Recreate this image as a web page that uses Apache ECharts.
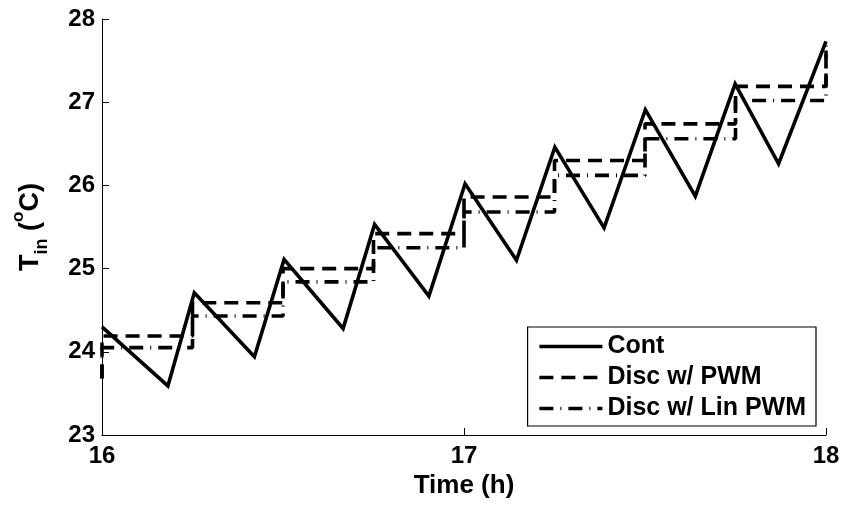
<!DOCTYPE html>
<html>
<head>
<meta charset="utf-8">
<script src="https://cdn.jsdelivr.net/npm/echarts@6/dist/echarts.min.js"></script>
<style>
  html, body { margin: 0; padding: 0; background: #fff; }
  #chart { width: 844px; height: 508px; }
</style>
</head>
<body>
<div id="chart"></div>
<script>
// Continuous controller: indoor temperature at switching instants (h, °C)
const contTimes  = [16.0, 16.182, 16.255, 16.421, 16.503, 16.666, 16.753, 16.903, 17.003, 17.145, 17.251, 17.387, 17.501, 17.639, 17.749, 17.869, 18.0];
const contValues = [24.30, 23.59, 24.71, 23.94, 25.11, 24.28, 25.53, 24.67, 26.02, 25.10, 26.46, 25.49, 26.91, 25.87, 27.22, 26.26, 27.73];

// Discrete controllers: one level held over each 15-minute slot
const stepTimes     = [16.0, 16.25, 16.5, 16.75, 17.0, 17.25, 17.5, 17.75, 18.0];
const pwmStart      = 23.68;
const pwmLevels     = [24.19, 24.59, 25.00, 25.42, 25.86, 26.30, 26.74, 27.19, 27.68];
const linPwmStart   = 23.68;
const linPwmLevels  = [24.05, 24.43, 24.84, 25.25, 25.68, 26.12, 26.56, 27.02, 27.62];

const xTicks = [16, 17, 18];
const yTicks = [23, 24, 25, 26, 27, 28];

const seriesNames = ['Cont', 'Disc w/ PWM', 'Disc w/ Lin PWM'];

function stepData(start, levels) {
  const pts = [[stepTimes[0], start]];
  for (let i = 0; i < stepTimes.length; i++) pts.push([stepTimes[i], levels[i]]);
  return pts;
}

const FONT = 'Liberation Sans';
const chart = echarts.init(document.getElementById('chart'), null, { renderer: 'canvas' });

chart.setOption({
  animation: false,
  backgroundColor: '#ffffff',
  grid: { left: 102, right: 18, top: 19, bottom: 73 },
  xAxis: {
    type: 'value',
    min: xTicks[0], max: xTicks[xTicks.length - 1], interval: 1,
    name: 'Time (h)', nameLocation: 'middle', nameGap: 37,
    nameTextStyle: { fontFamily: FONT, fontWeight: 'bold', fontSize: 26, color: '#000' },
    axisLine: { show: true, lineStyle: { color: '#000', width: 1 } },
    axisTick: { show: true, inside: true, length: 7, lineStyle: { color: '#000', width: 1 } },
    axisLabel: { fontFamily: FONT, fontWeight: 'bold', fontSize: 24, color: '#000', margin: 9 },
    splitLine: { show: false }
  },
  yAxis: {
    type: 'value',
    min: yTicks[0], max: yTicks[yTicks.length - 1], interval: 1,
    name: '{t|T}{sub|in}{p| (}{sup|o}{p|C)}',
    nameLocation: 'middle', nameGap: 58, nameRotate: 90,
    nameTextStyle: {
      fontFamily: FONT, fontWeight: 'bold', color: '#000',
      rich: {
        t:   { fontFamily: FONT, fontWeight: 'bold', fontSize: 27, color: '#000', verticalAlign: 'bottom', lineHeight: 34 },
        sub: { fontFamily: FONT, fontWeight: 'bold', fontSize: 18, color: '#000', verticalAlign: 'bottom', padding: [0, 0, -7, 0], lineHeight: 34 },
        p:   { fontFamily: FONT, fontWeight: 'bold', fontSize: 27, color: '#000', verticalAlign: 'bottom', lineHeight: 34 },
        sup: { fontFamily: FONT, fontWeight: 'bold', fontSize: 17, color: '#000', verticalAlign: 'top', lineHeight: 34 }
      }
    },
    axisLine: { show: true, lineStyle: { color: '#000', width: 1 } },
    axisTick: { show: true, inside: true, length: 7, lineStyle: { color: '#000', width: 1 } },
    axisLabel: { fontFamily: FONT, fontWeight: 'bold', fontSize: 24, color: '#000', margin: 7 },
    splitLine: { show: false }
  },
  legend: {
    show: true,
    orient: 'vertical',
    right: 28, bottom: 82,
    data: seriesNames,
    itemWidth: 63, itemHeight: 14, itemGap: 6,
    padding: [7, 10, 5, 10],
    borderColor: '#000', borderWidth: 1.2, borderRadius: 0,
    backgroundColor: '#fff',
    textStyle: { fontFamily: FONT, fontWeight: 'bold', fontSize: 25, color: '#000' },
    itemStyle: { opacity: 0 },
    lineStyle: { width: 3.6 },
    selectedMode: false
  },
  series: [
    {
      name: seriesNames[0], type: 'line', showSymbol: false, symbol: 'none',
      data: contTimes.map((t, i) => [t, contValues[i]]),
      lineStyle: { color: '#000', width: 3.6, type: 'solid', join: 'miter' },
      itemStyle: { color: '#000' }, z: 3
    },
    {
      name: seriesNames[1], type: 'line', showSymbol: false, symbol: 'none', step: 'end',
      data: stepData(pwmStart, pwmLevels),
      lineStyle: { color: '#000', width: 3.6, type: [14, 8] },
      itemStyle: { color: '#000' }, z: 2
    },
    {
      name: seriesNames[2], type: 'line', showSymbol: false, symbol: 'none', step: 'end',
      data: stepData(linPwmStart, linPwmLevels),
      lineStyle: { color: '#000', width: 3.6, type: [14, 7, 1, 7] },
      itemStyle: { color: '#000' }, z: 2
    }
  ]
});
</script>
</body>
</html>
